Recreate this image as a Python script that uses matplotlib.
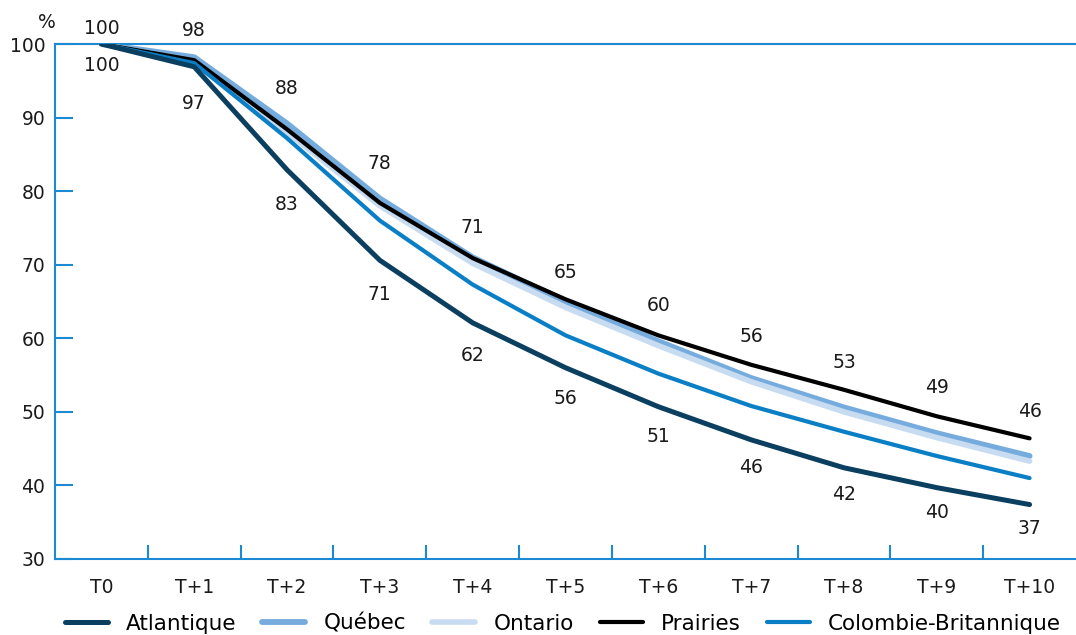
import matplotlib
matplotlib.use("Agg")
import matplotlib.pyplot as plt
import numpy as np

categories = ["T0", "T+1", "T+2", "T+3", "T+4", "T+5", "T+6", "T+7", "T+8", "T+9", "T+10"]
atlantique = [100, 96.9, 82.9, 70.6, 62.1, 56.0, 50.7, 46.2, 42.4, 39.7, 37.4]
quebec = [100, 98.2, 89.2, 79.0, 71.0, 65.0, 59.6, 54.6, 50.6, 47.1, 44.0]
ontario = [100, 97.6, 88.0, 78.0, 70.2, 64.2, 59.0, 54.1, 50.0, 46.5, 43.3]
prairies = [100, 97.8, 88.4, 78.4, 70.9, 65.3, 60.4, 56.4, 53.0, 49.4, 46.4]
colombie = [100, 97.4, 87.2, 76.0, 67.3, 60.4, 55.2, 50.8, 47.3, 44.0, 41.0]
yticks = [30, 40, 50, 60, 70, 80, 90, 100]

AXC = "#1b8ad3"
TXT = "#1a1a1a"
FS = 13.5
plt.rcParams['font.family'] = ['DejaVu Sans']

fig = plt.figure(figsize=(10.76, 6.35), dpi=100)
ax = fig.add_axes([55/1076, (635-559)/635, 1 - 55/1076, (559-44)/635])
x = np.arange(len(categories))

series = [
    ("Atlantique", atlantique, "#0b3f60", 3.6, 5),
    ("Québec", quebec, "#76acdd", 4.2, 2),
    ("Ontario", ontario, "#c7dbf1", 4.0, 3),
    ("Prairies", prairies, "#000000", 3.0, 4),
    ("Colombie-Britannique", colombie, "#0a7fc6", 3.0, 4),
]
handles = []
for name, vals, col, lw, z in series:
    h, = ax.plot(x, vals, color=col, lw=lw, zorder=z, solid_capstyle='round',
                 solid_joinstyle='round', label=name)
    handles.append(h)

top_off = [6, 20, 31, 30, 21, 17, 20, 19, 18, 19, 17]
for i, v in enumerate(prairies):
    ax.annotate(f"{round(v):d}", (i, v), xytext=(0, top_off[i]), textcoords='offset pixels',
                ha='center', va='bottom', fontsize=FS, color=TXT)
for i, v in enumerate(atlantique):
    off = 12 if i == 0 else 27 - 1.4 * (i - 1)
    ax.annotate(f"{round(v):d}", (i, v), xytext=(0, -off), textcoords='offset pixels',
                ha='center', va='top', fontsize=FS, color=TXT)

ax.set_xlim(-0.5, 10.5)
ax.set_ylim(30, 100)
ax.set_yticks(yticks)
ax.set_yticklabels([str(t) for t in yticks], fontsize=FS, color=TXT)
ax.tick_params(axis='y', direction='in', length=13, width=1.5, color=AXC, pad=7)
ax.set_xticks(x)
ax.set_xticklabels(categories, fontsize=FS, color=TXT)
ax.tick_params(axis='x', which='major', length=0, pad=14)
ax.set_xticks(np.arange(0.5, 10, 1), minor=True)
ax.tick_params(axis='x', which='minor', direction='in', length=10, width=1.5, color=AXC)
ax.tick_params(axis='y', which='minor', length=0)

for s in ['left', 'bottom', 'top']:
    ax.spines[s].set_color(AXC)
    ax.spines[s].set_linewidth(1.5)
ax.spines['right'].set_visible(False)
ax.set_facecolor('none')

fig.text(47/1076, 1 - 22/635, "%", fontsize=FS, ha='center', va='center', color=TXT)

fig.legend(handles=handles, loc='center', bbox_to_anchor=(0.523, 1 - 624/635), ncol=5,
           frameon=False, fontsize=15.5, handlelength=2.0, handletextpad=0.85, columnspacing=1.2,
           borderaxespad=0)

fig.savefig("out.png", dpi=100)
